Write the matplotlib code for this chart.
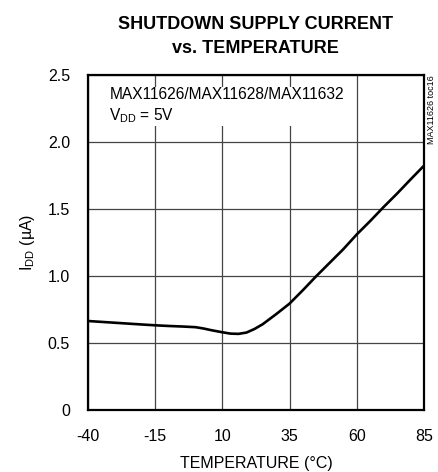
import matplotlib
matplotlib.use("Agg")
import matplotlib.pyplot as plt

plt.rcParams['font.family'] = ['Liberation Sans', 'DejaVu Sans']
plt.rcParams['axes.unicode_minus'] = False

# data
temp = [-40, -30, -20, -15, -10, -5, 0, 3, 6, 10, 13, 16, 19, 22, 25,
        30, 35, 40, 45, 50, 55, 60, 65, 70, 75, 80, 85]
idd = [0.664, 0.651, 0.638, 0.632, 0.627, 0.623, 0.618, 0.608, 0.595, 0.580,
       0.570, 0.568, 0.578, 0.605, 0.640, 0.715, 0.794, 0.895, 1.000, 1.100,
       1.200, 1.310, 1.410, 1.515, 1.615, 1.720, 1.823]
xticks = [-40, -15, 10, 35, 60, 85]
yticks = [0, 0.5, 1.0, 1.5, 2.0, 2.5]
ytick_labels = ['0', '0.5', '1.0', '1.5', '2.0', '2.5']

fig = plt.figure(figsize=(4.38, 4.72), dpi=100)
ax = fig.add_axes([0.2009, 0.1314, 0.767, 0.7097])

ax.plot(temp, idd, color='black', lw=1.9, zorder=3)

ax.set_xlim(-40, 85)
ax.set_ylim(0, 2.5)
ax.set_xticks(xticks)
ax.set_yticks(yticks)
ax.set_yticklabels(ytick_labels)
ax.tick_params(length=0, labelsize=11.5)
ax.tick_params(axis='x', pad=14)
ax.tick_params(axis='y', pad=13)
ax.grid(True, color='#444444', lw=0.9)
for s in ax.spines.values():
    s.set_linewidth(1.6)

ax.set_xlabel('TEMPERATURE (°C)', fontsize=11.5, labelpad=8)
ax.set_ylabel(r'I$_{\mathregular{DD}}$ (µA)', fontsize=11.5, labelpad=8)

fig.text(0.584, 0.966, 'SHUTDOWN SUPPLY CURRENT\nvs. TEMPERATURE',
         ha='center', va='top', fontsize=13, fontweight='bold', linespacing=1.55)

ax.text(-32, 2.41, 'MAX11626/MAX11628/MAX11632\n' + r'V$_{\mathregular{DD}}$ = 5V',
        fontsize=11.2, va='top', ha='left', linespacing=1.3,
        bbox=dict(facecolor='white', edgecolor='none', pad=1))

fig.text(0.986, 0.841, 'MAX11626 toc16', rotation=90, fontsize=6.5,
         ha='center', va='top')

fig.savefig('out.png', dpi=100)
